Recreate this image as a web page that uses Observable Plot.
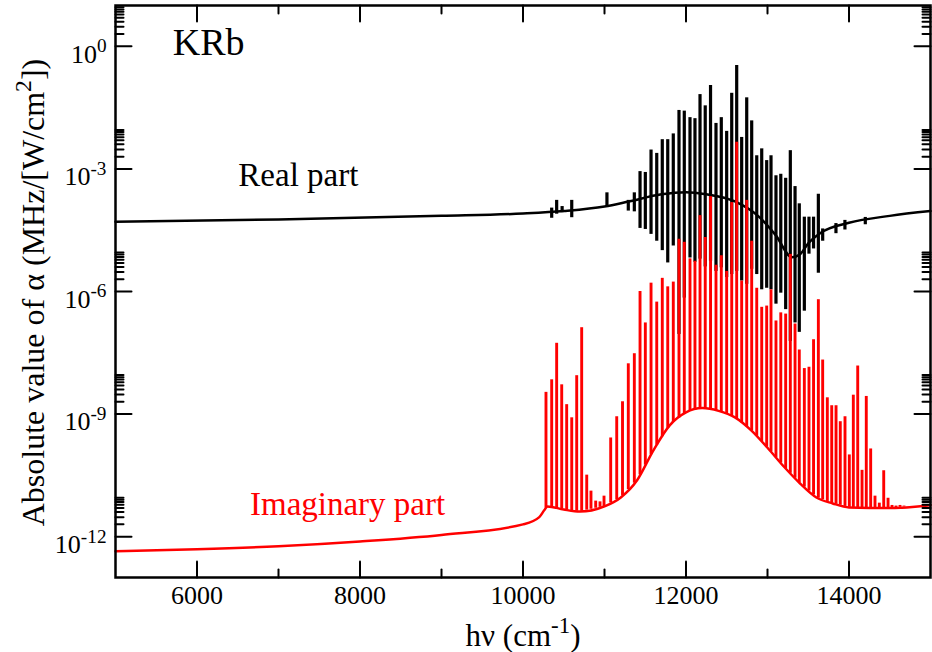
<!DOCTYPE html>
<html><head><meta charset="utf-8">
<script src="https://cdn.jsdelivr.net/npm/d3@7"></script>
<script src="https://cdn.jsdelivr.net/npm/@observablehq/plot@0.6"></script>
<style>body{margin:0;background:#fff}</style>
</head><body><div id="chart"></div>
<script>
// ---- Axis ticks ----
const xMajor = [6000, 8000, 10000, 12000, 14000];
const xMinor = [7000, 9000, 11000, 13000];
const yMajor = [1, 1e-3, 1e-6, 1e-9, 1e-12];
const yExp = ["0", "-3", "-6", "-9", "-12"];

// ---- Real part: smooth background ----
const realX = [5000,7000,9000,10000,10500,11000,11300,11700,12000,12250,12600,12900,13100,13300,13400,13500,13650,14000,14500,15000];
const realY = [5.1e-5,5.8e-5,7.1e-5,8.1e-5,9.3e-5,1.2e-4,1.6e-4,2.4e-4,2.7e-4,2.4e-4,1.6e-4,6.6e-5,2.4e-5,6.9e-6,8.2e-6,1.5e-5,2.7e-5,4.8e-5,7.1e-5,9.3e-5];

// ---- Real part: resonance spikes (upper and lower extremes) ----
const realSpikeX = [10352,10413,10480,10598,11030,11292,11366,11436,11501,11571,11641,11709,11776,11844,11914,11979,12049,12110,12172,12236,12301,12368,12433,12499,12561,12622,12683,12745,12806,12868,12929,12990,13043,13104,13163,13223,13280,13338,13390,13452,13509,13565,13624,13677,13840,13950,14200];
const realSpikeTop = [1.1e-4,1.7e-4,1.2e-4,1.7e-4,2.6e-4,1.7e-4,2.6e-4,8.6e-4,8.2e-4,2.9e-3,2.4e-3,5.2e-3,5.2e-3,7.2e-3,2.7e-2,2.6e-2,1.8e-2,1.7e-2,6.6e-2,3.5e-2,0.11,1.3e-2,1.8e-2,8.3e-3,7.1e-2,0.34,5.9e-3,5.5e-2,1.5e-2,2.1e-3,3.1e-3,1.6e-3,2.1e-3,6.8e-4,7.4e-4,5.9e-4,2.8e-3,3.7e-4,1.4e-4,6.6e-5,6.6e-5,6.6e-5,2.4e-4,3.4e-5,4.6e-5,5.5e-5,6.5e-5];
const realSpikeBottom = [6.2e-5,7.8e-5,8.5e-5,6.4e-5,1.2e-4,9.3e-5,8.9e-5,3.5e-5,3.3e-5,2.5e-5,1.7e-5,1.0e-5,5.0e-6,1.3e-5,8.9e-8,6.9e-7,6.6e-6,5.2e-6,6.2e-6,4.0e-6,5.5e-6,3.1e-6,3.8e-6,2.2e-6,2.6e-6,3.1e-6,1.8e-6,1.5e-6,3.5e-6,2.6e-6,1.1e-6,1.2e-6,1.1e-6,4.9e-7,9.1e-7,3.6e-7,6.0e-8,1.7e-7,1.0e-7,3.3e-7,8.2e-6,1.1e-5,2.8e-6,1.7e-5,2.6e-5,3.2e-5,4.3e-5];

// ---- Imaginary part: smooth background (lower envelope) ----
const imagX = [5000,6000,7000,8000,9000,10000,10200,10260,10300,10500,10700,11000,11200,11400,11600,11800,12000,12200,12400,12600,12800,13000,13200,13400,13600,13800,14000,14500,15000];
const imagY = [4.4e-13,4.9e-13,5.8e-13,7.6e-13,1.1e-12,2.0e-12,3.0e-12,4.4e-12,5.5e-12,4.6e-12,4.1e-12,5.5e-12,9.1e-12,2.4e-11,1.3e-10,5.3e-10,1.1e-9,1.4e-9,1.2e-9,8.3e-10,4.0e-10,1.5e-10,5.2e-11,2.0e-11,9.1e-12,6.5e-12,5.2e-12,5.0e-12,5.9e-12];

// ---- Imaginary part: resonance peaks ----
const imagPeakX = [10282,10352,10413,10475,10536,10598,10659,10720,10782,10834,10892,10945,10994,11076,11150,11221,11292,11366,11436,11501,11571,11641,11709,11776,11844,11914,11979,12049,12110,12172,12236,12301,12368,12433,12499,12561,12622,12683,12745,12806,12868,12929,12990,13043,13104,13163,13223,13280,13338,13390,13452,13509,13565,13624,13677,13734,13788,13841,13893,13951,14004,14053,14107,14160,14212,14266,14319,14372,14426,14479,14528,14577,14626,14675,14715];
const imagPeakY = [3.4e-9,6.9e-9,5.4e-8,5.2e-9,1.7e-9,8.1e-10,8.7e-9,1.3e-7,3.2e-11,1.3e-11,7.4e-12,7.1e-12,9.8e-12,2.6e-10,8.6e-10,2.0e-9,1.7e-8,3.0e-8,1.0e-6,1.7e-7,1.6e-6,5.5e-7,2.1e-6,1.3e-6,1.7e-6,1.9e-5,1.6e-5,6.3e-6,5.5e-6,7.2e-5,2.1e-5,2.1e-4,4.4e-6,7.5e-6,3.1e-6,1.5e-4,4.5e-3,1.8e-6,1.7e-4,1.7e-5,1.2e-6,4.1e-7,4.4e-7,1.1e-6,1.9e-7,3.0e-7,2.8e-7,8.1e-6,1.6e-7,3.7e-8,1.3e-8,1.4e-8,6.6e-8,6.3e-7,2.1e-8,2.5e-9,1.6e-9,1.6e-9,6.5e-10,8.6e-10,1.0e-10,2.9e-9,1.5e-8,4.2e-11,2.7e-9,1.4e-10,9.8e-12,6.6e-12,4.1e-11,8.7e-12,5.8e-12,5.6e-12,5.8e-12,5.6e-12,5.3e-12];

// ---- build tables ----
const SERIF = '"Liberation Serif", "Times New Roman", serif';
const X0 = 5000, X1 = 15000, YLO = 1e-13, YHI = 10;
const realLine = realX.map((x, i) => ({x, y: realY[i]}));
const realSpikes = realSpikeX.map((x, i) => ({x, top: realSpikeTop[i], bottom: realSpikeBottom[i]}));
const imagLine = imagX.map((x, i) => ({x, y: imagY[i]}));
const baseAt = d3.scaleLinear().domain(imagX).range(imagY.map(Math.log10));
const imagPeaks = imagPeakX.map((x, i) => ({x, top: imagPeakY[i], base: Math.pow(10, baseAt(x))}));
const yMinor = yMajor.flatMap(m => [2,3,4,5,6,7,8,9].map(k => k * m));

const tickShape = {draw(ctx, l) { ctx.moveTo(0, 0); ctx.lineTo(0, -l); }};
const ticks = (data, opts, len) => Plot.vector(data, {...opts, length: len, anchor: "start", shape: tickShape, stroke: "black", strokeWidth: 2});

const chart = Plot.plot({
  width: 932, height: 652,
  marginLeft: 115, marginRight: 2, marginTop: 5, marginBottom: 75,
  x: {domain: [X0, X1], label: null},
  y: {type: "log", domain: [YLO, YHI], axis: null},
  style: {fontFamily: SERIF, background: "white", color: "black", overflow: "visible"},
  marks: [
    Plot.line(realLine, {x: "x", y: "y", stroke: "black", strokeWidth: 2.5, curve: "monotone-x"}),
    Plot.ruleX(realSpikes, {x: "x", y1: "bottom", y2: "top", stroke: "black", strokeWidth: 3.2}),
    Plot.line(imagLine, {x: "x", y: "y", stroke: "#ff0000", strokeWidth: 2.5, curve: "monotone-x"}),
    Plot.ruleX(imagPeaks, {x: "x", y1: "base", y2: "top", stroke: "#ff0000", strokeWidth: 2.9}),
    Plot.frame({stroke: "black", strokeWidth: 2.5}),
    ticks(xMajor, {x: d => d, y: () => YLO, rotate: 0}, 16),
    ticks(xMinor, {x: d => d, y: () => YLO, rotate: 0}, 8),
    ticks(xMajor, {x: d => d, y: () => YHI, rotate: 180}, 16),
    ticks(xMinor, {x: d => d, y: () => YHI, rotate: 180}, 8),
    ticks(yMajor, {x: () => X0, y: d => d, rotate: 90}, 16),
    ticks(yMinor, {x: () => X0, y: d => d, rotate: 90}, 8),
    ticks(yMajor, {x: () => X1, y: d => d, rotate: -90}, 16),
    ticks(yMinor, {x: () => X1, y: d => d, rotate: -90}, 8),
    Plot.axisX(xMajor, {tickSize: 0, tickPadding: 8, tickFormat: d => String(d), fontSize: 26, fontFamily: SERIF, label: null}),
    Plot.text(yMajor, {x: () => X0, y: d => d, text: (d, i) => "10^{" + yExp[i] + "}", textAnchor: "end", dx: -9, dy: 8, fontSize: 26}),
    Plot.text(["KRb"], {x: () => 5702, y: () => 0.63, text: d => d, textAnchor: "start", lineAnchor: "bottom", fontSize: 38}),
    Plot.text(["Real part"], {x: () => 6507, y: () => 3.8e-4, text: d => d, textAnchor: "start", lineAnchor: "bottom", fontSize: 33}),
    Plot.text(["Imaginary part"], {x: () => 6650, y: () => 3.4e-12, text: d => d, textAnchor: "start", lineAnchor: "bottom", fontSize: 33, fill: "#ff0000"}),
    Plot.text(["Absolute value of α (MHz/[W/cm^{2}])"], {frameAnchor: "left", rotate: -90, dx: -72, dy: 1, textAnchor: "middle", lineAnchor: "bottom", text: d => d, fontSize: 32}),
    Plot.text(["hν (cm^{-1})"], {frameAnchor: "bottom", dy: 68, textAnchor: "middle", lineAnchor: "bottom", text: d => d, fontSize: 31})
  ]
});
document.getElementById("chart").appendChild(chart);

// superscripts: turn "^{...}" into raised tspans (using dy so text-anchor stays exact)
d3.select(chart).selectAll("text").each(function() {
  const s = this.textContent;
  if (!s.includes("^{")) return;
  const fs = parseFloat(getComputedStyle(this).fontSize) || 26;
  const shift = fs * 0.4;
  const t = d3.select(this);
  t.text(null);
  let raised = false;
  for (const p of s.split(/(\^\{[^}]*\})/)) {
    if (!p) continue;
    if (p.startsWith("^{")) {
      t.append("tspan").attr("font-size", (fs * 0.74) + "px").attr("dy", (-shift) + "px").text(p.slice(2, -1));
      raised = true;
    } else {
      const ts = t.append("tspan").text(p);
      if (raised) { ts.attr("dy", shift + "px"); raised = false; }
    }
  }
});
</script>
</body></html>
